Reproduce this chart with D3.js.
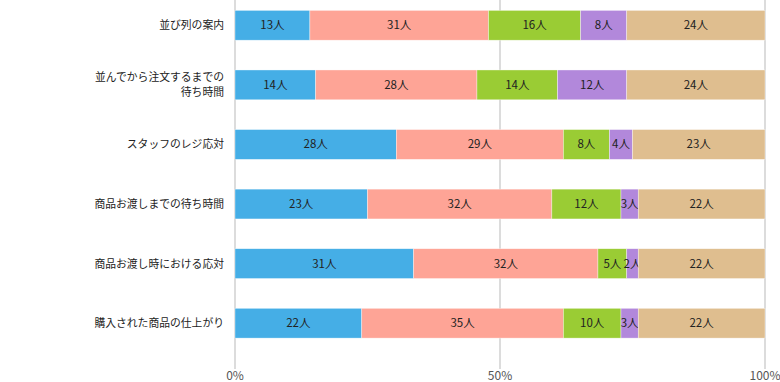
<!DOCTYPE html>
<html>
<head>
<meta charset="utf-8">
<script src="https://cdn.jsdelivr.net/npm/d3@7"></script>
<style>
  body { margin: 0; background: #fff; }
  text { font-family: "Noto Sans CJK JP", "Noto Sans", sans-serif; }
</style>
</head>
<body>
<svg id="chart"></svg>
<script>
// Categories (top to bottom), "|" marks a line break
var categories = [
    "並び列の案内",
    "並んでから注文するまでの|待ち時間",
    "スタッフのレジ応対",
    "商品お渡しまでの待ち時間",
    "商品お渡し時における応対",
    "購入された商品の仕上がり"
];

// Counts per answer level, one array per series
var series1 = [13, 14, 28, 23, 31, 22];
var series2 = [31, 28, 29, 32, 32, 35];
var series3 = [16, 14, 8, 12, 5, 10];
var series4 = [8, 12, 4, 3, 2, 3];
var series5 = [24, 24, 23, 22, 22, 22];

var tickValues = [0, 0.5, 1];
var tickLabels = ["0%", "50%", "100%"];

var colors = ["#45aee6", "#fea496", "#9acc34", "#b288db", "#dfbe8f"];

var width = 780, height = 382;
var margin = {left: 235, right: 15, top: 0, bottom: 44};

var svg = d3.select("#chart")
            .attr("width", width)
            .attr("height", height);

var allSeries = [series1, series2, series3, series4, series5];

// Build rows for the stack
var rows = categories.map(function(c, i) {
    var row = {cat: c};
    allSeries.forEach(function(s, k) { row["s" + k] = s[i]; });
    return row;
});

var keys = allSeries.map(function(s, k) { return "s" + k; });
var stacked = d3.stack()
                .keys(keys)
                .offset(d3.stackOffsetExpand)(rows);

var x = d3.scaleLinear()
          .domain([0, 1])
          .range([margin.left, width - margin.right]);

var y = d3.scaleBand()
          .domain(categories)
          .range([-4.5, 353])
          .paddingInner(0.5)
          .paddingOuter(0.25);

// Gridlines
svg.append("g")
   .selectAll("line")
   .data(tickValues)
   .enter()
   .append("line")
     .attr("x1", d => x(d))
     .attr("x2", d => x(d))
     .attr("y1", 0)
     .attr("y2", 369)
     .attr("stroke", "#dcdcdc")
     .attr("stroke-width", 2);

// Tick labels
svg.append("g")
   .selectAll("text")
   .data(tickValues)
   .enter()
   .append("text")
     .attr("x", d => x(d))
     .attr("y", 380)
     .attr("font-size", "12px")
     .attr("fill", "#555")
     .style("text-anchor", "middle")
     .text((d, i) => tickLabels[i]);

// Bars
var layers = svg.append("g")
                .selectAll("g")
                .data(stacked)
                .enter()
                .append("g")
                  .attr("fill", (d, i) => colors[i]);

layers.selectAll("rect")
      .data(d => d)
      .enter()
      .append("rect")
        .attr("x", d => x(d[0]))
        .attr("width", d => x(d[1]) - x(d[0]))
        .attr("y", d => y(d.data.cat))
        .attr("height", y.bandwidth())
        .attr("stroke", "#fff")
        .attr("stroke-width", 0.6)
        .attr("stroke-opacity", 0.6);

// Segment labels
layers.selectAll("text")
      .data((d, k) => d.map(function(p) { return {p: p, k: k}; }))
      .enter()
      .append("text")
        .attr("x", d => (x(d.p[0]) + x(d.p[1])) / 2)
        .attr("y", d => y(d.p.data.cat) + y.bandwidth() / 2 + 4)
        .attr("font-size", "11.5px")
        .attr("fill", "#222")
        .style("text-anchor", "middle")
        .text(d => d.p.data["s" + d.k] + "人");

// Category labels
var catLabels = svg.append("g")
                   .selectAll("text")
                   .data(categories)
                   .enter()
                   .append("text")
                     .attr("x", 224)
                     .attr("y", d => y(d) + y.bandwidth() / 2 + 4)
                     .attr("font-size", "10.8px")
                     .attr("fill", "#222")
                     .style("text-anchor", "end");

catLabels.each(function(d) {
    var lines = d.split("|");
    var t = d3.select(this);
    lines.forEach(function(line, i) {
        t.append("tspan")
         .attr("x", 224)
         .attr("dy", i === 0 ? (-(lines.length - 1) * 15 / 2) : 15)
         .text(line);
    });
});
</script>
</body>
</html>
